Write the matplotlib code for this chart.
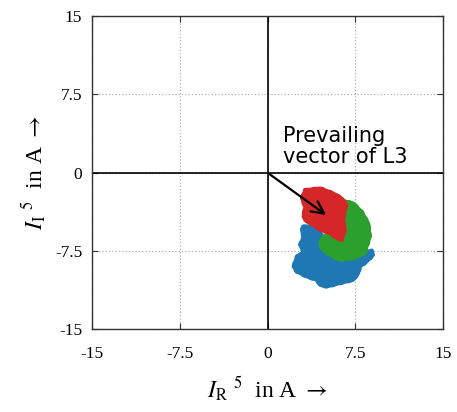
import matplotlib.pyplot as plt

plt.rcParams['mathtext.fontset'] = 'stix'

# cluster outlines (I_R, I_I in A)
blue_x = [3.06, 3.63, 4.34, 4.77, 4.49, 5.06, 6.20, 7.62, 8.33, 8.91, 9.04, 8.48, 7.91,
          7.76, 7.33, 6.20, 5.06, 4.49, 4.21, 3.35, 2.50, 2.21, 2.50, 3.06, 2.78, 3.06, 2.92]
blue_y = [-5.17, -5.11, -5.49, -6.13, -7.09, -7.72, -8.36, -8.05, -7.57, -7.47, -7.88, -8.52, -9.00,
          -9.64, -10.28, -10.59, -10.92, -10.76, -10.28, -9.96, -9.48, -9.00, -8.05, -7.57, -6.93, -6.13, -5.49]

green_x = [6.20, 7.33, 8.05, 8.62, 8.76, 8.48, 8.33, 7.33, 6.20, 5.34, 4.63, 4.49, 4.77,
           5.20, 6.05, 6.48, 6.62, 6.48, 6.77, 6.48]
green_y = [-2.61, -2.93, -3.74, -4.85, -6.13, -7.09, -7.72, -8.20, -8.36, -7.89, -7.24, -6.76, -6.13,
           -5.97, -6.45, -6.45, -5.49, -4.53, -3.26, -2.68]

red_x = [3.21, 4.49, 5.62, 6.34, 6.77, 6.62, 6.48, 6.62, 6.34, 5.91, 5.34, 4.49, 3.91,
         3.35, 3.06, 3.21, 2.92]
red_y = [-1.66, -1.49, -1.97, -2.45, -3.09, -3.57, -4.53, -5.49, -6.45, -6.28, -5.80, -5.49, -5.01,
         -4.69, -4.21, -3.26, -2.45]

arrow_tip = (5.2, -4.21)
ticks = [-15, -7.5, 0, 7.5, 15]
tick_labels = ['-15', '-7.5', '0', '7.5', '15']

fig = plt.figure(figsize=(4.57, 4.12), dpi=100)
ax = fig.add_axes([0.2013, 0.2007, 0.7681, 0.7605])

for xs, ys, c in [(blue_x, blue_y, '#1f77b4'), (green_x, green_y, '#2ca02c'), (red_x, red_y, '#d62728')]:
    ax.fill(xs, ys, color=c, ec=c, lw=2.5, joinstyle='round', zorder=3)
    # ragged border like the scattered points
    ax.plot(xs + xs[:1], ys + ys[:1], ls=(0, (0.5, 1.5)), lw=3, color=c,
            dash_capstyle='round', zorder=3)

ax.axhline(0, color='black', lw=1.2, zorder=2)
ax.axvline(0, color='black', lw=1.2, zorder=2)

ax.annotate('', xy=arrow_tip, xytext=(0, 0),
            arrowprops=dict(arrowstyle='->', color='black', lw=1.6, mutation_scale=22),
            zorder=5)
ax.text(1.35, 0.9, 'Prevailing\nvector of L3', fontsize=15, family='DejaVu Sans',
        va='baseline', ha='left', linespacing=1.1, zorder=6)

ax.set_xlim(-15, 15)
ax.set_ylim(-15, 15)
ax.set_xticks(ticks)
ax.set_yticks(ticks)
ax.set_xticklabels(tick_labels, family='Liberation Serif', fontsize=12.5)
ax.set_yticklabels(tick_labels, family='Liberation Serif', fontsize=12.5)
ax.tick_params(axis='both', direction='in', length=4, width=0.8, top=True, right=True, colors='#333333')
ax.tick_params(axis='x', pad=12, labelcolor='black')
ax.tick_params(axis='y', pad=7, labelcolor='black')
ax.grid(True, ls=':', color='#b0b0b0', lw=0.9)
ax.set_axisbelow(True)
for s in ax.spines.values():
    s.set_color('#333333')
    s.set_linewidth(1.0)

fig.text(0.585, 0.034, r'$I_{\mathrm{R}}\ {}^{5}$  in A $\rightarrow$', family='Liberation Serif',
         fontsize=17, ha='center', va='baseline')
fig.text(0.076, 0.581, r'$I_{\mathrm{I}}\ {}^{5}$  in A $\rightarrow$', family='Liberation Serif',
         fontsize=17, ha='center', va='center', rotation=90)

fig.savefig('out.png', dpi=100)
